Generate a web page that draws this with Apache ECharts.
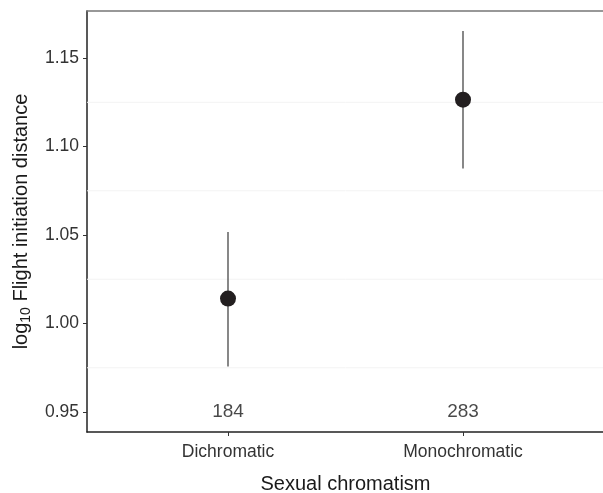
<!DOCTYPE html>
<html>
<head>
<meta charset="utf-8">
<script src="https://cdn.jsdelivr.net/npm/echarts@6/dist/echarts.min.js"></script>
<style>
  html, body { margin: 0; padding: 0; background: #fff; }
</style>
</head>
<body>
<div id="main" style="width:603px;height:493px;"></div>
<script>
  var groups = ['Dichromatic', 'Monochromatic'];
  var means = [1.0141, 1.1265];
  var lower = [0.9757, 1.0876];
  var upper = [1.0517, 1.1653];
  var counts = [184, 283];
  var yTicks = [0.95, 1.00, 1.05, 1.10, 1.15];
  var faintLines = [0.975, 1.025, 1.075, 1.125];

  var chart = echarts.init(document.getElementById('main'));

  var pointData = means.map(function (m, i) { return [i + 1, m]; });
  var barData = means.map(function (m, i) { return [i + 1, lower[i], upper[i]]; });
  var countData = counts.map(function (c, i) { return [i + 1, 0.95, c]; });

  var option = {
    animation: false,
    textStyle: { fontFamily: 'Liberation Sans, Arial, sans-serif' },
    grid: { left: 87, top: 11, width: 517, height: 421, outerBoundsMode: 'none', containLabel: false },
    xAxis: [{
      type: 'value',
      min: 0.4,
      max: 2.6,
      name: 'Sexual chromatism',
      nameLocation: 'middle',
      nameGap: 42,
      nameTextStyle: { fontSize: 20, color: '#1a1a1a' },
      axisLine: { show: true, lineStyle: { color: '#222', width: 1.5 } },
      axisTick: { show: true, length: 4, customValues: [1, 2], lineStyle: { color: '#333' } },
      axisLabel: {
        customValues: [1, 2],
        margin: 11,
        fontSize: 17.5,
        color: '#333',
        formatter: function (v) { return groups[Math.round(v) - 1]; }
      },
      splitLine: { show: false }
    }, {
      type: 'value',
      position: 'top',
      min: 0.4,
      max: 2.6,
      axisLine: { show: true, onZero: false, lineStyle: { color: '#777', width: 1.5 } },
      axisTick: { show: false },
      axisLabel: { show: false },
      splitLine: { show: false }
    }],
    yAxis: {
      type: 'value',
      min: 0.9387,
      max: 1.1766,
      name: '{a|log}{s|10}{a| Flight initiation distance}',
      nameLocation: 'middle',
      nameGap: 54,
      nameRotate: 90,
      nameTextStyle: {
        rich: {
          a: { fontSize: 20, color: '#1a1a1a', fontFamily: 'Liberation Sans' },
          s: { fontSize: 14, color: '#1a1a1a', fontFamily: 'Liberation Sans', padding: [10, 0, 0, 0] }
        }
      },
      axisLine: { show: true, lineStyle: { color: '#222', width: 1.5 } },
      axisTick: { show: true, length: 4, customValues: yTicks, lineStyle: { color: '#333' } },
      axisLabel: {
        customValues: yTicks,
        margin: 8,
        fontSize: 17.5,
        color: '#333',
        formatter: function (v) { return v.toFixed(2); }
      },
      splitLine: { show: false }
    },
    series: [{
      // faint horizontal guide lines
      type: 'custom',
      silent: true,
      data: faintLines.map(function (v) { return [v]; }),
      encode: { y: 0 },
      renderItem: function (params, api) {
        var y = api.coord([1, api.value(0)])[1];
        var cs = params.coordSys;
        return {
          type: 'line',
          shape: { x1: cs.x, y1: y, x2: cs.x + cs.width, y2: y },
          style: { stroke: '#f3f3f3', lineWidth: 1 }
        };
      },
      z: 1
    }, {
      type: 'custom',
      silent: true,
      data: barData,
      renderItem: function (params, api) {
        var p1 = api.coord([api.value(0), api.value(1)]);
        var p2 = api.coord([api.value(0), api.value(2)]);
        return {
          type: 'line',
          shape: { x1: p1[0], y1: p1[1], x2: p2[0], y2: p2[1] },
          style: { stroke: '#555', lineWidth: 1.4 }
        };
      },
      z: 2
    }, {
      type: 'scatter',
      data: pointData,
      symbol: 'circle',
      symbolSize: 16,
      itemStyle: { color: '#231f20', opacity: 1 },
      z: 3
    }, {
      type: 'scatter',
      data: countData,
      symbolSize: 0,
      label: {
        show: true,
        position: 'inside',
        fontSize: 19,
        color: '#1a1a1a',
        formatter: function (p) { return String(p.value[2]); }
      },
      z: 3
    }]
  };

  chart.setOption(option);
</script>
</body>
</html>
